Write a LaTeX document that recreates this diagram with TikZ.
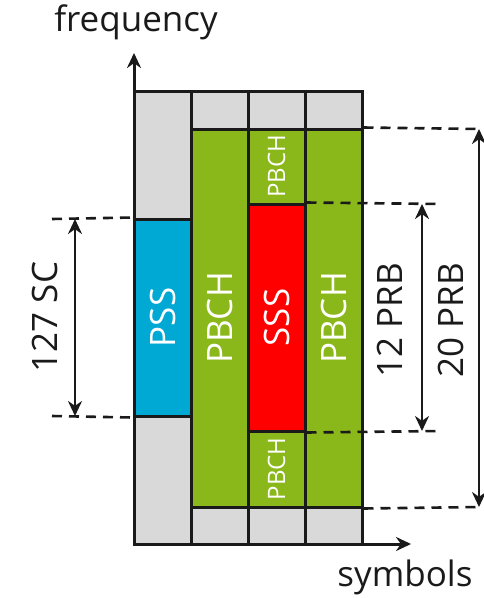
\documentclass[tikz,border=0pt]{standalone}
\usepackage{fontspec}
\setmainfont{Open Sans}
\usetikzlibrary{arrows.meta}
\definecolor{pssblue}{HTML}{00A8D4}
\definecolor{pbchgreen}{HTML}{8AB81A}
\definecolor{sssred}{HTML}{FF0000}
\definecolor{gridgrey}{HTML}{D9D9D9}
\definecolor{ink}{HTML}{1A1A1A}
\newcommand{\up}[1]{\rotatebox{90}{#1}}

\begin{document}
\begin{tikzpicture}[x=1pt,y=-1pt,>={Stealth[length=15pt,width=14pt]},
  cell/.style={draw=ink,line width=3pt,fill=gridgrey,inner sep=0pt,minimum width=57pt},
  blk/.style={cell,text=white,font=\fontsize{35}{35}\selectfont},
  small/.style={blk,font=\fontsize{24}{24}\selectfont},
  guide/.style={draw=ink,line width=2.6pt,dash pattern=on 10pt off 7pt},
  dim/.style={draw=ink,line width=2.6pt,<->},
  lbl/.style={text=ink,font=\fontsize{35}{35}\selectfont,inner sep=0pt}]
\useasboundingbox (0,0) rectangle (483,598);
% grey frame
\node[cell,minimum height=128pt] (g1t) at (162.5,155) {};
\node[cell,minimum height=128pt] (g1b) at (162.5,480) {};
\node[cell,minimum height=38pt] (g2t) at (219.5,110) {};
\node[cell,minimum height=38pt] (g3t) at (276.5,110) {};
\node[cell,minimum height=38pt] (g4t) at (333.5,110) {};
\node[cell,minimum height=37pt] (g2b) at (219.5,525.5) {};
\node[cell,minimum height=37pt] (g3b) at (276.5,525.5) {};
\node[cell,minimum height=37pt] (g4b) at (333.5,525.5) {};
% channels
\node[blk,fill=pssblue,minimum height=197pt] (pss) at (162.5,317.5) {\up{PSS}};
\node[blk,fill=pbchgreen,minimum height=378pt] (pbchl) at (219.5,318) {\up{PBCH}};
\node[blk,fill=sssred,minimum height=227pt] (sss) at (276.5,317.5) {\up{SSS}};
\node[small,fill=pbchgreen,minimum height=75pt] (pbcht) at (276.5,166.5) {\up{PBCH}};
\node[small,fill=pbchgreen,minimum height=76pt] (pbchb) at (276.5,469) {\up{PBCH}};
\node[blk,fill=pbchgreen,minimum height=378pt] (pbchr) at (333.5,318) {\up{PBCH}};
% axes
\coordinate (o) at (134,544);
\coordinate (ftop) at (134,53);
\coordinate (tend) at (411,544);
\draw[ink,line width=3pt,->] (o) -- (ftop);
\draw[ink,line width=3pt,->] (o) -- (tend);
\node[lbl] (freq) at (136,22) {frequency};
\node[lbl] (sym) at (405,577) {symbols};
% 127 SC
\coordinate (sca) at (52,219);
\coordinate (scb) at (52,416);
\coordinate (sct) at (75,219);
\coordinate (scd) at (75,416);
\draw[guide] (sca) -- (pss.north west);
\draw[guide] (scb) -- (pss.south west);
\draw[dim] (sct) -- (scd);
\node[lbl,rotate=90] (sc) at (45,317) {127 SC};
% 12 PRB
\coordinate (pa) at (442,204);
\coordinate (pb) at (442,431);
\coordinate (pt) at (422,204);
\coordinate (pd) at (422,431);
\draw[guide] (sss.north east) -- (pa);
\draw[guide] (sss.south east) -- (pb);
\draw[dim] (pt) -- (pd);
\node[lbl,rotate=90] (p12) at (390,320) {12 PRB};
% 20 PRB
\coordinate (qa) at (481,129);
\coordinate (qb) at (481,507);
\coordinate (qt) at (479,129);
\coordinate (qd) at (479,507);
\draw[guide] (pbchr.north east) -- (qa);
\draw[guide] (pbchr.south east) -- (qb);
\draw[dim] (qt) -- (qd);
\node[lbl,rotate=90] (p20) at (451,320) {20 PRB};
\end{tikzpicture}
\end{document}
